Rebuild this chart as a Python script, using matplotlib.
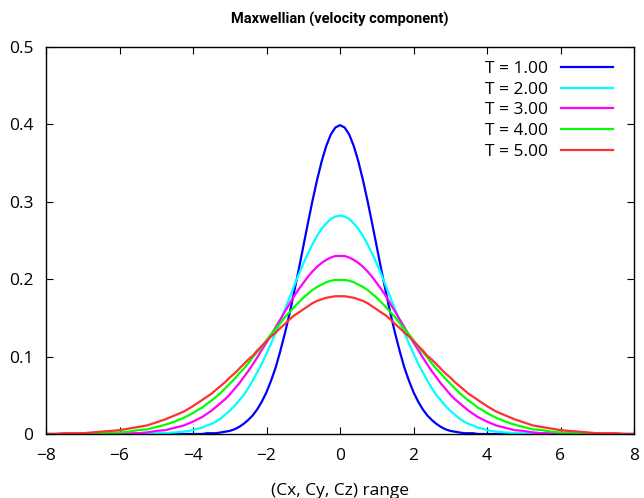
import matplotlib
matplotlib.use("Agg")
import matplotlib.pyplot as plt

plt.rcParams['font.family'] = ['Open Sans', 'DejaVu Sans']
plt.rcParams['font.size'] = 12.5

# x samples for the right half: step 0.125 up to 4, then 0.25 up to 8
x_half = [i * 0.125 for i in range(33)] + [4 + i * 0.25 for i in range(1, 17)]

# right half (x >= 0) of each curve
half_t1 = [0.399, 0.396, 0.387, 0.372, 0.352, 0.328, 0.301, 0.272, 0.242, 0.212, 0.183,
           0.155, 0.130, 0.107, 0.086, 0.069, 0.054, 0.042, 0.032, 0.024, 0.018, 0.013,
           0.009, 0.006, 0.004, 0.003, 0.002, 0.001, 0.001, 0.001, 0.000, 0.000, 0.000,
           0.000, 0.000, 0.000, 0.000, 0.000, 0.000, 0.000, 0.000, 0.000, 0.000, 0.000,
           0.000, 0.000, 0.000, 0.000, 0.000]
half_t2 = [0.282, 0.281, 0.278, 0.272, 0.265, 0.256, 0.245, 0.233, 0.220, 0.206, 0.191,
           0.176, 0.161, 0.146, 0.131, 0.117, 0.104, 0.091, 0.080, 0.069, 0.059, 0.050,
           0.043, 0.036, 0.030, 0.025, 0.020, 0.016, 0.013, 0.011, 0.008, 0.007, 0.005,
           0.003, 0.002, 0.001, 0.001, 0.000, 0.000, 0.000, 0.000, 0.000, 0.000, 0.000,
           0.000, 0.000, 0.000, 0.000, 0.000]
half_t3 = [0.230, 0.230, 0.228, 0.225, 0.221, 0.216, 0.210, 0.203, 0.195, 0.187, 0.178,
           0.168, 0.158, 0.148, 0.138, 0.128, 0.118, 0.109, 0.099, 0.090, 0.081, 0.073,
           0.065, 0.058, 0.051, 0.045, 0.040, 0.035, 0.030, 0.026, 0.022, 0.019, 0.016,
           0.011, 0.008, 0.005, 0.004, 0.002, 0.001, 0.001, 0.001, 0.000, 0.000, 0.000,
           0.000, 0.000, 0.000, 0.000, 0.000]
half_t4 = [0.199, 0.199, 0.198, 0.196, 0.193, 0.190, 0.186, 0.181, 0.176, 0.170, 0.164,
           0.157, 0.151, 0.143, 0.136, 0.129, 0.121, 0.113, 0.106, 0.099, 0.091, 0.084,
           0.078, 0.071, 0.065, 0.059, 0.053, 0.048, 0.043, 0.039, 0.034, 0.031, 0.027,
           0.021, 0.016, 0.012, 0.009, 0.006, 0.005, 0.003, 0.002, 0.002, 0.001, 0.001,
           0.000, 0.000, 0.000, 0.000, 0.000]
half_t5 = [0.178, 0.178, 0.177, 0.176, 0.174, 0.172, 0.169, 0.165, 0.161, 0.157, 0.153,
           0.148, 0.142, 0.137, 0.131, 0.126, 0.120, 0.114, 0.108, 0.101, 0.096, 0.090,
           0.084, 0.078, 0.073, 0.067, 0.062, 0.057, 0.052, 0.048, 0.044, 0.040, 0.036,
           0.029, 0.024, 0.019, 0.015, 0.011, 0.009, 0.007, 0.005, 0.004, 0.003, 0.002,
           0.001, 0.001, 0.001, 0.000, 0.000]

labels = ["T = 1.00", "T = 2.00", "T = 3.00", "T = 4.00", "T = 5.00"]
colors = ["#0000ff", "#00ffff", "#ff00ff", "#00ff00", "#ff3030"]

fig = plt.figure(figsize=(6.44, 4.98), dpi=100)
ax = fig.add_axes([46 / 644, 64 / 498, 588 / 644, 387 / 498])

x = [-v for v in x_half[::-1]] + x_half[1:]
for half, lab, col in zip([half_t1, half_t2, half_t3, half_t4, half_t5], labels, colors):
    y = half[::-1] + half[1:]   # curves are symmetric about 0
    ax.plot(x, y, color=col, lw=1.6, label=lab)

ax.set_xlim(-8, 8)
ax.set_ylim(0, 0.5)
ax.set_xticks(range(-8, 9, 2))
ax.set_yticks([0, 0.1, 0.2, 0.3, 0.4, 0.5])
ax.set_yticklabels(["0", "0.1", "0.2", "0.3", "0.4", "0.5"])
ax.tick_params(direction="in", top=True, right=True, length=5, labelsize=12.5)
ax.tick_params(axis="x", pad=10)
ax.tick_params(axis="y", pad=9)
for s in ax.spines.values():
    s.set_linewidth(1.0)

ax.set_title("Maxwellian (velocity component)", fontweight="bold", fontsize=10.5,
             fontfamily=["Roboto", "DejaVu Sans"], pad=17)
ax.set_xlabel("(Cx, Cy, Cz) range", fontsize=12.5, labelpad=14)

ax.legend(loc="upper right", bbox_to_anchor=(1 - 21 / 588, 1 - 14 / 387),
          frameon=False, markerfirst=False, handlelength=3.0, labelspacing=0.26,
          borderaxespad=0, borderpad=0, fontsize=12.5, handletextpad=0.75)

fig.savefig("out.png", dpi=100)
